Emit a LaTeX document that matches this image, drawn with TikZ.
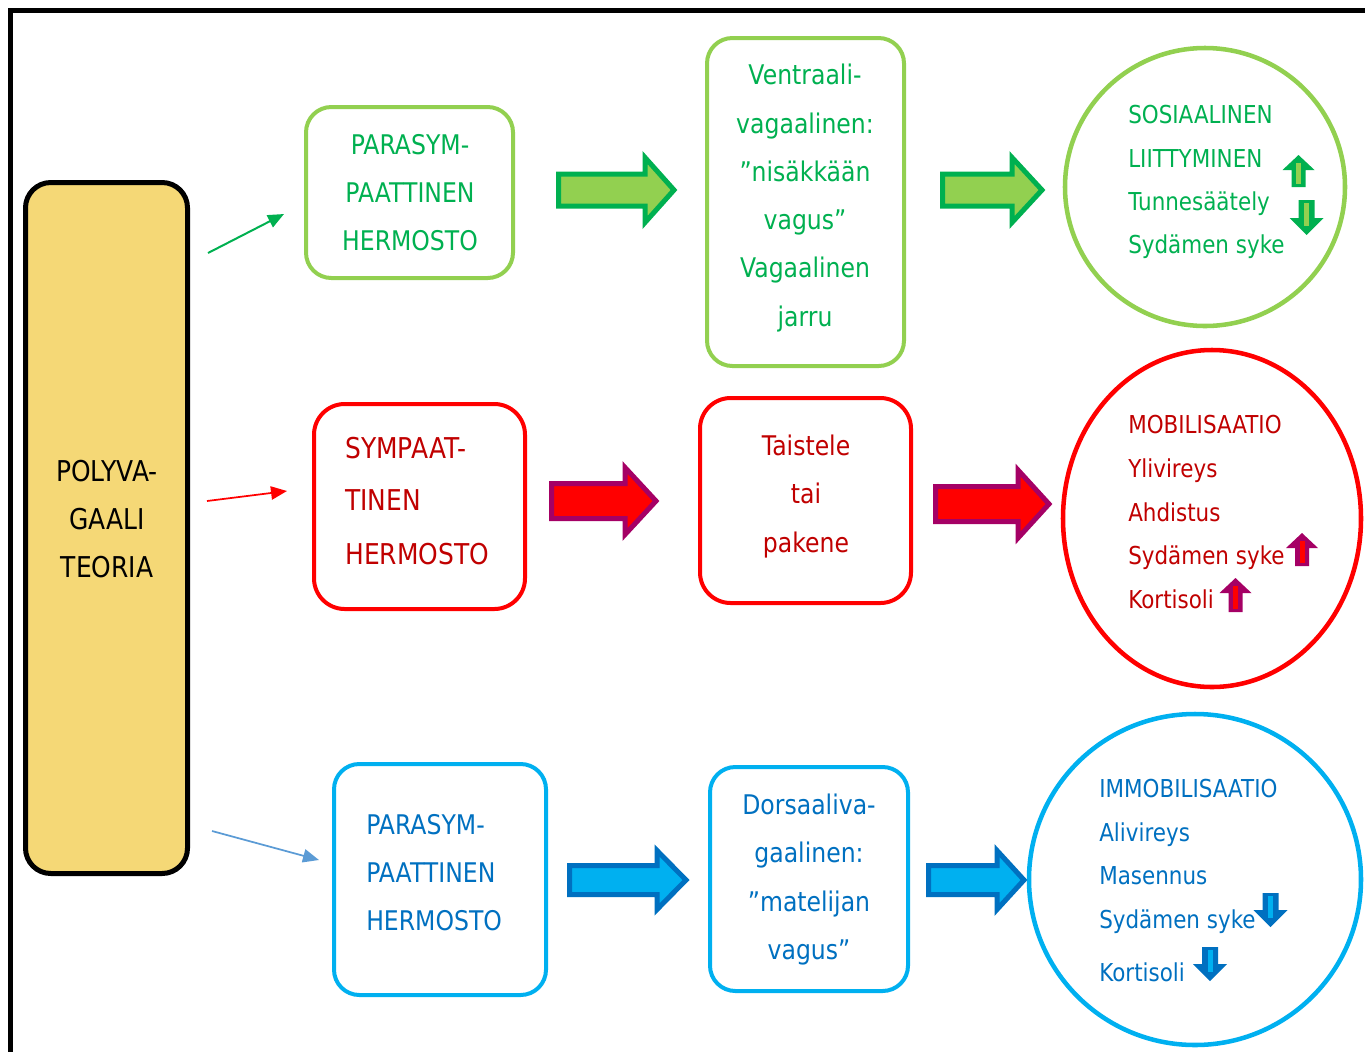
\documentclass[tikz,border=0pt]{standalone}
\usepackage{fontspec}
\setmainfont{DejaVu Sans}[FakeStretch=0.87]
\usetikzlibrary{shapes.geometric,arrows.meta}
\definecolor{lgreen}{HTML}{92D050}
\definecolor{dgreen}{HTML}{00B050}
\definecolor{rred}{HTML}{FF0000}
\definecolor{dred}{HTML}{C00000}
\definecolor{mag}{HTML}{A50065}
\definecolor{cyanb}{HTML}{00B0F0}
\definecolor{dblue}{HTML}{0070C0}
\definecolor{lblue}{HTML}{5B9BD5}
\definecolor{yel}{HTML}{F5D876}
\newcommand{\blockarrow}[8]{%
  \filldraw[fill=#7,draw=#8,line width=3.75pt,line join=miter]
  (#1,#4-#5) -- (#2,#4-#5) -- (#2,#4-#6) -- (#3,#4) -- (#2,#4+#6) -- (#2,#4+#5) -- (#1,#4+#5) -- cycle;}
\newcommand{\uparr}[5]{%
  \fill[#4] (#1-7,#3) -- (#1-7,#2+15) -- (#1-16,#2+15) -- (#1,#2) -- (#1+16,#2+15) -- (#1+7,#2+15) -- (#1+7,#3) -- cycle;
  \fill[#5] (#1-2.5,#3-3) rectangle (#1+2.5,#2+8);}
\newcommand{\downarr}[5]{%
  \fill[#4] (#1-8,#2) -- (#1-8,#3-17) -- (#1-17,#3-17) -- (#1,#3) -- (#1+17,#3-17) -- (#1+8,#3-17) -- (#1+8,#2) -- cycle;
  \fill[#5] (#1-2.5,#2+3) rectangle (#1+2.5,#3-9);}
\tikzset{
  x=0.75pt, y=-0.75pt,
  rbox/.style={draw, rounded corners=19pt, line width=3pt, inner sep=0pt},
  circ/.style={ellipse, draw, line width=3.4pt, inner sep=0pt},
  btxt/.style={font=\fontsize{20.3}{24}\selectfont, anchor=base, inner sep=0pt},
  ctxt/.style={font=\fontsize{18.5}{24}\selectfont, anchor=base west, inner sep=0pt},
  conn/.style={line width=1.5pt, -{Triangle[length=12pt,width=10pt]}},
}
\begin{document}
\begin{tikzpicture}
\useasboundingbox (0,0) rectangle (1365,1051);
% frame
\draw[line width=3.4pt] (10.5,1080) -- (10.5,10.5) -- (1400,10.5);
% POLYVAGAALI TEORIA
\node[rbox, fill=yel, line width=3.75pt, minimum width=162*0.75pt, minimum height=691*0.75pt] (poly) at (106.5,528) {};
\node[btxt, font=\fontsize{21.5}{24}\selectfont] (p1) at (107,481) {POLYVA-};
\node[btxt, font=\fontsize{21.5}{24}\selectfont] (p2) at (107,529) {GAALI};
\node[btxt, font=\fontsize{21.5}{24}\selectfont] (p3) at (107,577) {TEORIA};
% ---------- green row
\node[rbox, draw=lgreen, minimum width=207*0.75pt, minimum height=171*0.75pt] (g1) at (409.5,192.5) {};
\node[btxt, text=dgreen] (g1a) at (410,154) {PARASYM-};
\node[btxt, text=dgreen] (g1b) at (410,202) {PAATTINEN};
\node[btxt, text=dgreen] (g1c) at (410,250) {HERMOSTO};
\node[rbox, draw=lgreen, minimum width=197*0.75pt, minimum height=328*0.75pt] (g2) at (805.5,202) {};
\node[btxt, text=dgreen] (g2a) at (805,84) {Ventraali-};
\node[btxt, text=dgreen] (g2b) at (805,133) {vagaalinen:};
\node[btxt, text=dgreen] (g2c) at (805,181) {”nisäkkään};
\node[btxt, text=dgreen] (g2d) at (805,229) {vagus”};
\node[btxt, text=dgreen] (g2e) at (805,277) {Vagaalinen};
\node[btxt, text=dgreen] (g2f) at (805,326) {jarru};
\node[circ, draw=lgreen, minimum width=280*0.75pt, minimum height=278*0.75pt] (g3) at (1205,187) {};
\node[ctxt, text=dgreen] (g3a) at (1128,123) {SOSIAALINEN};
\node[ctxt, text=dgreen] (g3b) at (1128,167) {LIITTYMINEN};
\node[ctxt, text=dgreen] (g3c) at (1128,210) {Tunnesäätely};
\node[ctxt, text=dgreen] (g3d) at (1128,253) {Sydämen syke};
\uparr{1298.5}{155}{187}{dgreen}{lgreen}
\downarr{1306.5}{200}{235}{dgreen}{lgreen}
\blockarrow{558.5}{645}{674}{190}{16}{32.5}{lgreen}{dgreen}
\blockarrow{942.5}{1012}{1042}{190}{16}{32.5}{lgreen}{dgreen}
\coordinate (gs) at (208,253);
\coordinate (ge) at (284,214);
\draw[conn, dgreen] (gs) -- (ge);
% ---------- red row
\node[rbox, draw=rred, rounded corners=23pt, minimum width=211*0.75pt, minimum height=205*0.75pt] (r1) at (419.5,506.5) {};
\node[btxt, anchor=base west, text=dred, font=\fontsize{21.5}{24}\selectfont] (r1a) at (345,458) {SYMPAAT-};
\node[btxt, anchor=base west, text=dred, font=\fontsize{21.5}{24}\selectfont] (r1b) at (345,510) {TINEN};
\node[btxt, anchor=base west, text=dred, font=\fontsize{21.5}{24}\selectfont] (r1c) at (345,564) {HERMOSTO};
\node[rbox, draw=rred, rounded corners=23pt, minimum width=211*0.75pt, minimum height=205*0.75pt] (r2) at (805.5,500.5) {};
\node[btxt, text=dred] (r2a) at (806,455) {Taistele};
\node[btxt, text=dred] (r2b) at (806,503) {tai};
\node[btxt, text=dred] (r2c) at (806,552) {pakene};
\node[circ, draw=rred, minimum width=298*0.75pt, minimum height=337*0.75pt] (r3) at (1212,518.5) {};
\node[ctxt, text=dred] (r3a) at (1128,433) {MOBILISAATIO};
\node[ctxt, text=dred] (r3b) at (1128,477) {Ylivireys};
\node[ctxt, text=dred] (r3c) at (1128,521) {Ahdistus};
\node[ctxt, text=dred] (r3d) at (1128,564) {Sydämen syke};
\node[ctxt, text=dred] (r3e) at (1128,608) {Kortisoli};
\uparr{1302}{533}{566}{mag}{rred}
\uparr{1235.5}{578}{612}{mag}{rred}
\blockarrow{551.5}{625}{656}{501}{17.5}{33.5}{rred}{mag}
\blockarrow{935.5}{1018}{1049}{504}{17.5}{34}{rred}{mag}
\coordinate (rs) at (207,501);
\coordinate (re) at (287,491);
\draw[conn, rred, line width=1.3pt] (rs) -- (re);
% ---------- blue row
\node[rbox, draw=cyanb, minimum width=212*0.75pt, minimum height=231*0.75pt] (b1) at (440,879.5) {};
\node[btxt, anchor=base west, text=dblue] (b1a) at (366,834) {PARASYM-};
\node[btxt, anchor=base west, text=dblue] (b1b) at (366,882) {PAATTINEN};
\node[btxt, anchor=base west, text=dblue] (b1c) at (366,930) {HERMOSTO};
\node[rbox, draw=cyanb, minimum width=198*0.75pt, minimum height=224*0.75pt] (b2) at (809,879) {};
\node[btxt, text=dblue] (b2a) at (809,814) {Dorsaaliva-};
\node[btxt, text=dblue] (b2b) at (809,862) {gaalinen:};
\node[btxt, text=dblue] (b2c) at (809,911) {”matelijan};
\node[btxt, text=dblue] (b2d) at (809,959) {vagus”};
\node[circ, draw=cyanb, minimum width=332*0.75pt, minimum height=331*0.75pt] (b3) at (1195,879.5) {};
\node[ctxt, text=dblue] (b3a) at (1099,797) {IMMOBILISAATIO};
\node[ctxt, text=dblue] (b3b) at (1099,841) {Alivireys};
\node[ctxt, text=dblue] (b3c) at (1099,884) {Masennus};
\node[ctxt, text=dblue] (b3d) at (1099,928) {Sydämen syke};
\node[ctxt, text=dblue] (b3e) at (1099,981) {Kortisoli};
\downarr{1270.5}{893}{927}{dblue}{cyanb}
\downarr{1210}{947}{981}{dblue}{cyanb}
\blockarrow{569.5}{657}{686}{880}{14.5}{29.5}{cyanb}{dblue}
\blockarrow{928.5}{997}{1024}{880}{14.5}{29.5}{cyanb}{dblue}
\coordinate (bs) at (212,831);
\coordinate (be) at (319,860);
\draw[conn, lblue, line width=1.3pt] (bs) -- (be);
\end{tikzpicture}
\end{document}
